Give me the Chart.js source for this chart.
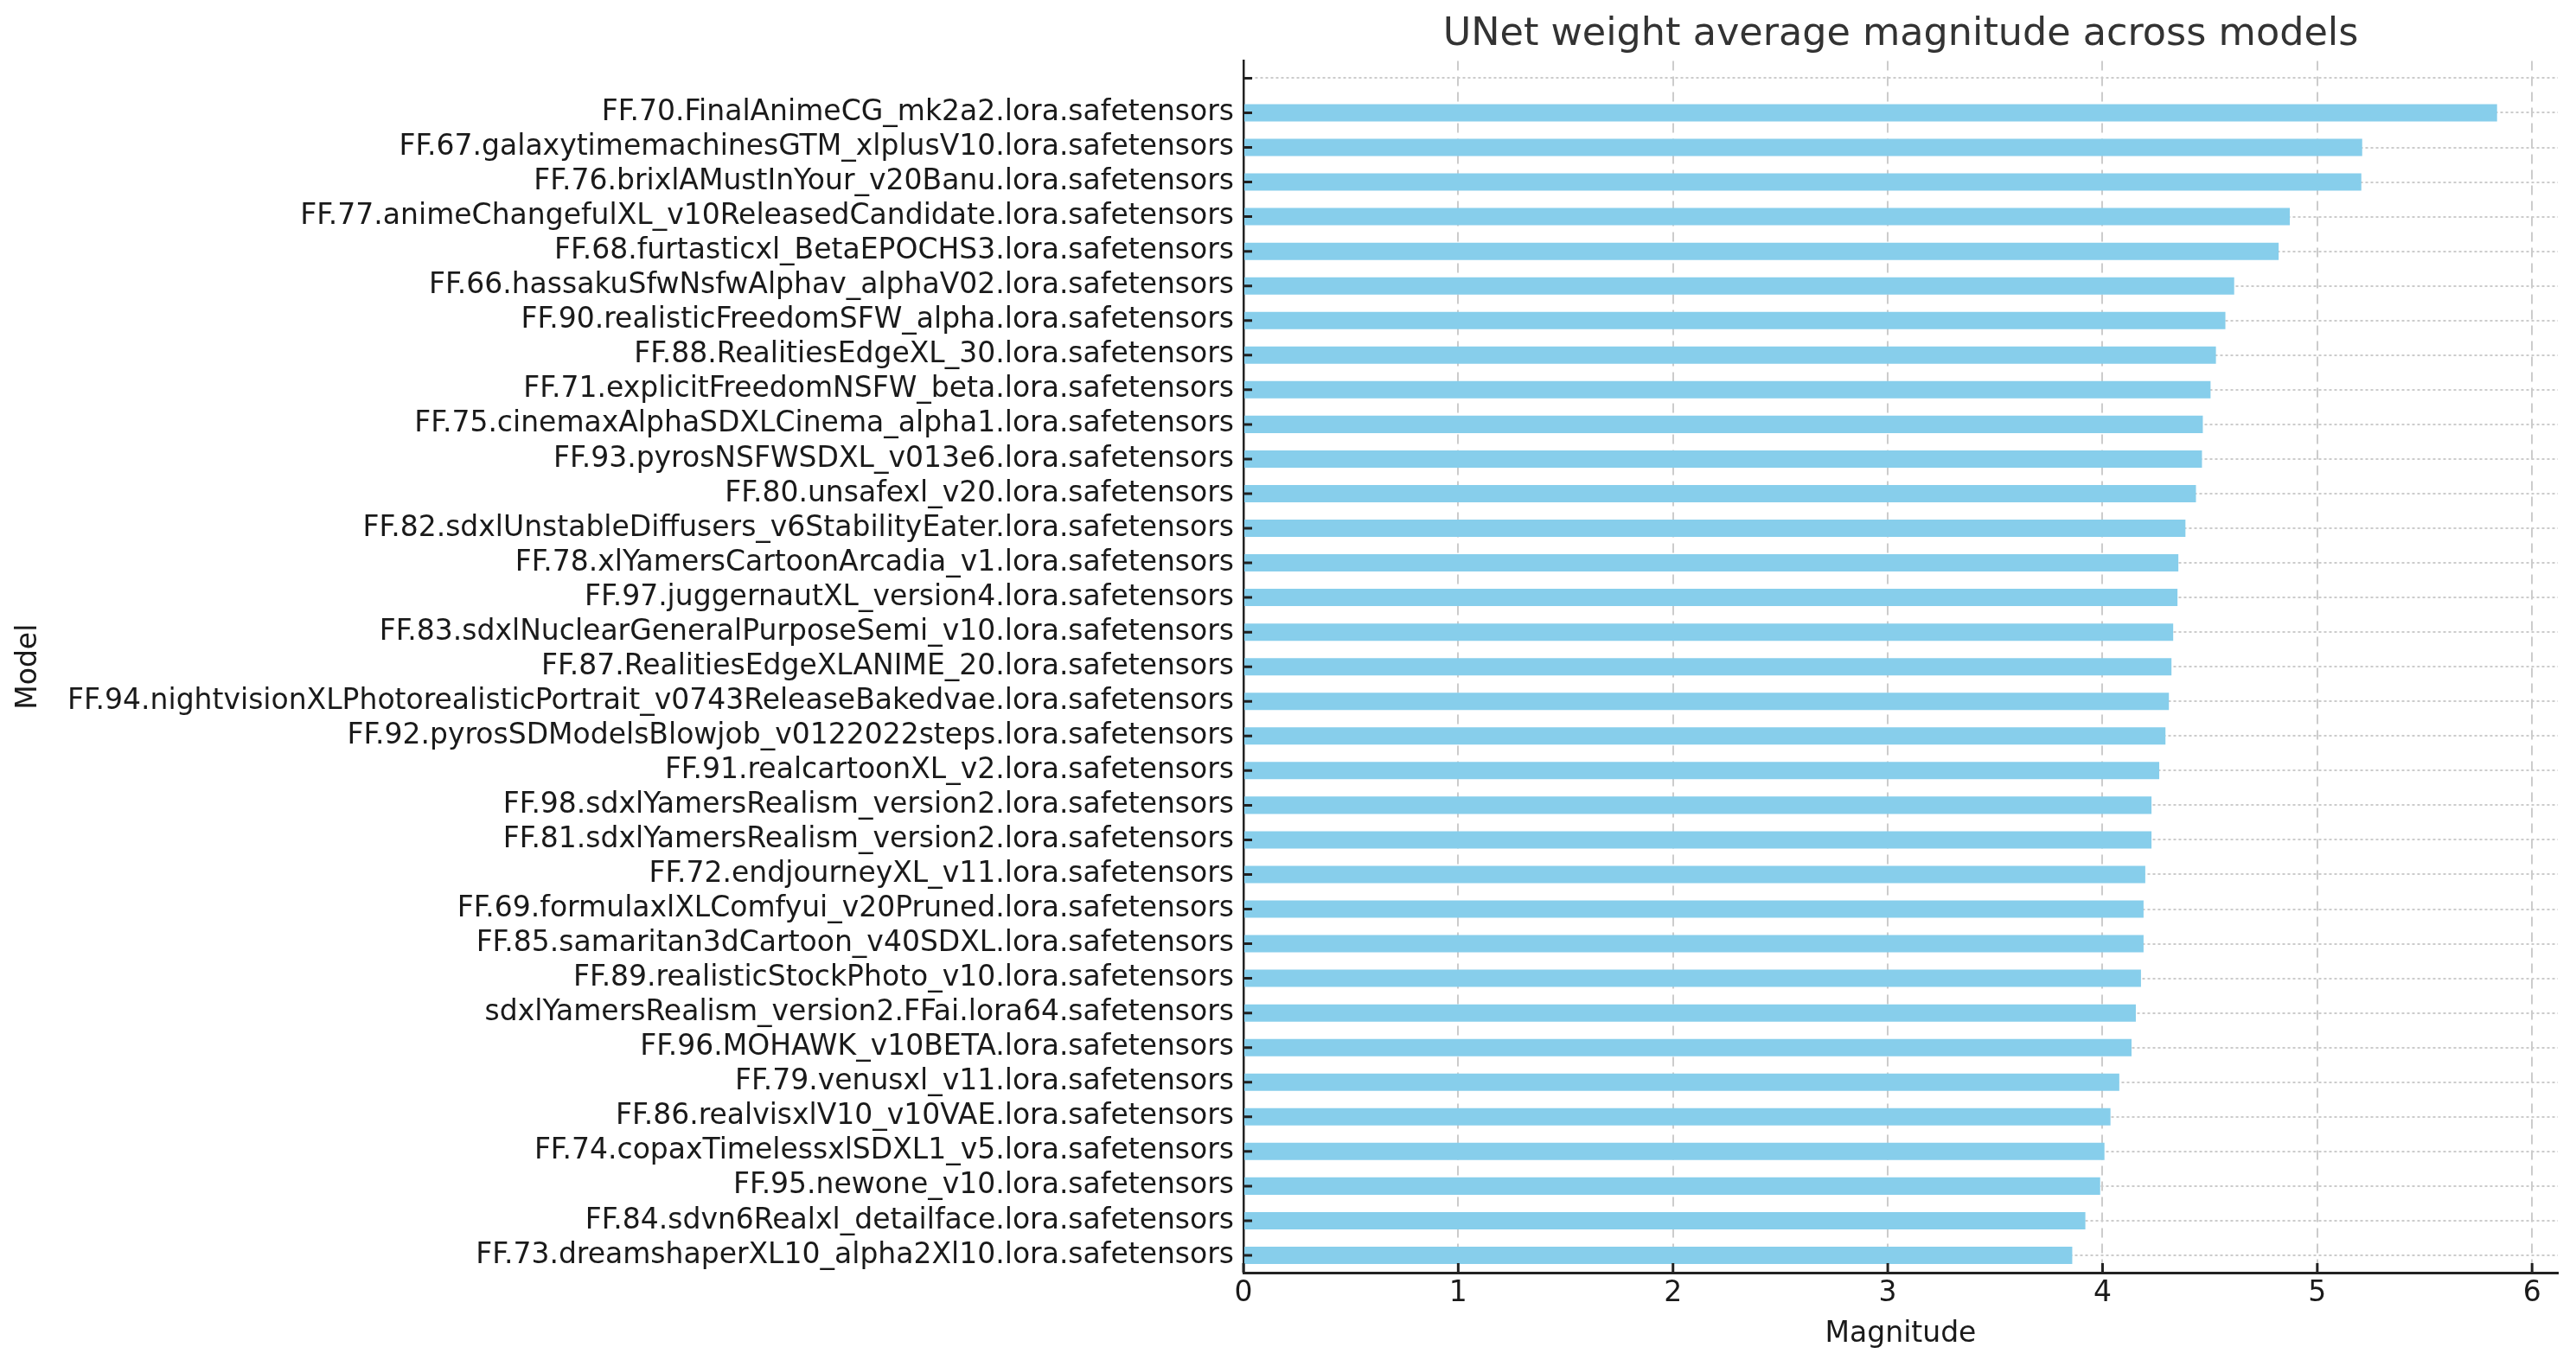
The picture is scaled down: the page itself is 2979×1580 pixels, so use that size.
<!DOCTYPE html>
<html>
<head>
<meta charset="utf-8">
<title>UNet weight average magnitude across models</title>
<script src="https://cdn.jsdelivr.net/npm/chart.js@4.4.1/dist/chart.umd.min.js"></script>
<style>
  html, body { margin: 0; padding: 0; background: #fff; }
  #wrap { width: 2979px; height: 1580px; position: relative; }
</style>
</head>
<body>
<div id="wrap"><canvas id="myChart"></canvas></div>
<script>
// top slot of the axis is an empty category (no bar), as in the original
var models = [
  "",
  "FF.70.FinalAnimeCG_mk2a2.lora.safetensors",
  "FF.67.galaxytimemachinesGTM_xlplusV10.lora.safetensors",
  "FF.76.brixlAMustInYour_v20Banu.lora.safetensors",
  "FF.77.animeChangefulXL_v10ReleasedCandidate.lora.safetensors",
  "FF.68.furtasticxl_BetaEPOCHS3.lora.safetensors",
  "FF.66.hassakuSfwNsfwAlphav_alphaV02.lora.safetensors",
  "FF.90.realisticFreedomSFW_alpha.lora.safetensors",
  "FF.88.RealitiesEdgeXL_30.lora.safetensors",
  "FF.71.explicitFreedomNSFW_beta.lora.safetensors",
  "FF.75.cinemaxAlphaSDXLCinema_alpha1.lora.safetensors",
  "FF.93.pyrosNSFWSDXL_v013e6.lora.safetensors",
  "FF.80.unsafexl_v20.lora.safetensors",
  "FF.82.sdxlUnstableDiffusers_v6StabilityEater.lora.safetensors",
  "FF.78.xlYamersCartoonArcadia_v1.lora.safetensors",
  "FF.97.juggernautXL_version4.lora.safetensors",
  "FF.83.sdxlNuclearGeneralPurposeSemi_v10.lora.safetensors",
  "FF.87.RealitiesEdgeXLANIME_20.lora.safetensors",
  "FF.94.nightvisionXLPhotorealisticPortrait_v0743ReleaseBakedvae.lora.safetensors",
  "FF.92.pyrosSDModelsBlowjob_v0122022steps.lora.safetensors",
  "FF.91.realcartoonXL_v2.lora.safetensors",
  "FF.98.sdxlYamersRealism_version2.lora.safetensors",
  "FF.81.sdxlYamersRealism_version2.lora.safetensors",
  "FF.72.endjourneyXL_v11.lora.safetensors",
  "FF.69.formulaxlXLComfyui_v20Pruned.lora.safetensors",
  "FF.85.samaritan3dCartoon_v40SDXL.lora.safetensors",
  "FF.89.realisticStockPhoto_v10.lora.safetensors",
  "sdxlYamersRealism_version2.FFai.lora64.safetensors",
  "FF.96.MOHAWK_v10BETA.lora.safetensors",
  "FF.79.venusxl_v11.lora.safetensors",
  "FF.86.realvisxlV10_v10VAE.lora.safetensors",
  "FF.74.copaxTimelessxlSDXL1_v5.lora.safetensors",
  "FF.95.newone_v10.lora.safetensors",
  "FF.84.sdvn6Realxl_detailface.lora.safetensors",
  "FF.73.dreamshaperXL10_alpha2Xl10.lora.safetensors"
];

var magnitudes = [
  null,
  5.837, 5.209, 5.205, 4.872, 4.820, 4.613, 4.572, 4.528, 4.503, 4.467,
  4.463, 4.435, 4.386, 4.353, 4.349, 4.329, 4.321, 4.309, 4.293, 4.264,
  4.228, 4.228, 4.199, 4.191, 4.191, 4.179, 4.155, 4.135, 4.078, 4.037,
  4.009, 3.989, 3.920, 3.859
];

var xTicks = [0, 1, 2, 3, 4, 5, 6];

// short tick marks pointing into the plot, matplotlib style
var innerTicks = {
  id: "innerTicks",
  afterDatasetsDraw: function (chart) {
    var c = chart.ctx, area = chart.chartArea;
    var xs = chart.scales.x, ys = chart.scales.y;
    c.save();
    c.strokeStyle = "#222";
    c.lineWidth = 3;
    c.beginPath();
    for (var i = 0; i < ys.ticks.length; i++) {
      var py = ys.getPixelForTick(i);
      c.moveTo(area.left, py);
      c.lineTo(area.left + 10, py);
    }
    for (var j = 0; j < xs.ticks.length; j++) {
      var px = xs.getPixelForTick(j);
      c.moveTo(px, area.bottom);
      c.lineTo(px, area.bottom - 11);
    }
    c.stroke();
    c.restore();
  }
};

var ctx = document.getElementById("myChart").getContext("2d");

var myChart = new Chart(ctx, {
  type: "bar",
  data: {
    labels: models,
    datasets: [
      {
        data: magnitudes,
        backgroundColor: "#87CEEB",
        barPercentage: 0.5,
        categoryPercentage: 1.0,
      },
    ],
  },
  plugins: [innerTicks],
  options: {
    indexAxis: "y",
    responsive: true,
    maintainAspectRatio: false,
    animation: false,
    devicePixelRatio: 1,
    layout: {
      padding: { left: 0, right: 21, top: 0, bottom: 0 },
    },
    plugins: {
      legend: { display: false },
      tooltip: { enabled: false },
      title: {
        display: true,
        text: "UNet weight average magnitude across models",
        fullSize: false,
        color: "#333",
        font: { family: "'DejaVu Sans'", size: 44.5, weight: "normal", lineHeight: 1.2 },
        padding: { top: 14, bottom: 3 },
      },
    },
    scales: {
      x: {
        type: "linear",
        min: 0,
        max: 6.12,
        afterBuildTicks: function (scale) {
          scale.ticks = xTicks.map(function (v) { return { value: v }; });
        },
        afterFit: function (scale) {
          scale.height = 108;
        },
        grid: {
          display: true,
          color: "#cccccc",
          lineWidth: 2,
          drawTicks: false,
        },
        border: {
          display: true,
          color: "#222",
          width: 3,
          dash: [11, 7],
        },
        ticks: {
          color: "#1a1a1a",
          padding: 5,
          font: { family: "'DejaVu Sans'", size: 33 },
        },
        title: {
          display: true,
          text: "Magnitude",
          color: "#1a1a1a",
          font: { family: "'DejaVu Sans'", size: 33, lineHeight: 1.2 },
          padding: { top: 0, bottom: 17 },
        },
      },
      y: {
        afterFit: function (scale) {
          scale.width = 1438;
        },
        grid: {
          display: true,
          offset: false,
          color: "#cccccc",
          lineWidth: 2,
          drawTicks: false,
        },
        border: {
          display: true,
          color: "#222",
          width: 2.5,
          dash: [3, 3],
        },
        ticks: {
          color: "#1a1a1a",
          padding: 11,
          autoSkip: false,
          font: { family: "'DejaVu Sans'", size: 33 },
        },
        title: {
          display: true,
          text: "Model",
          color: "#1a1a1a",
          font: { family: "'DejaVu Sans'", size: 33, lineHeight: 1.2 },
          padding: { top: 14, bottom: 0 },
        },
      },
    },
  },
});
</script>
</body>
</html>
